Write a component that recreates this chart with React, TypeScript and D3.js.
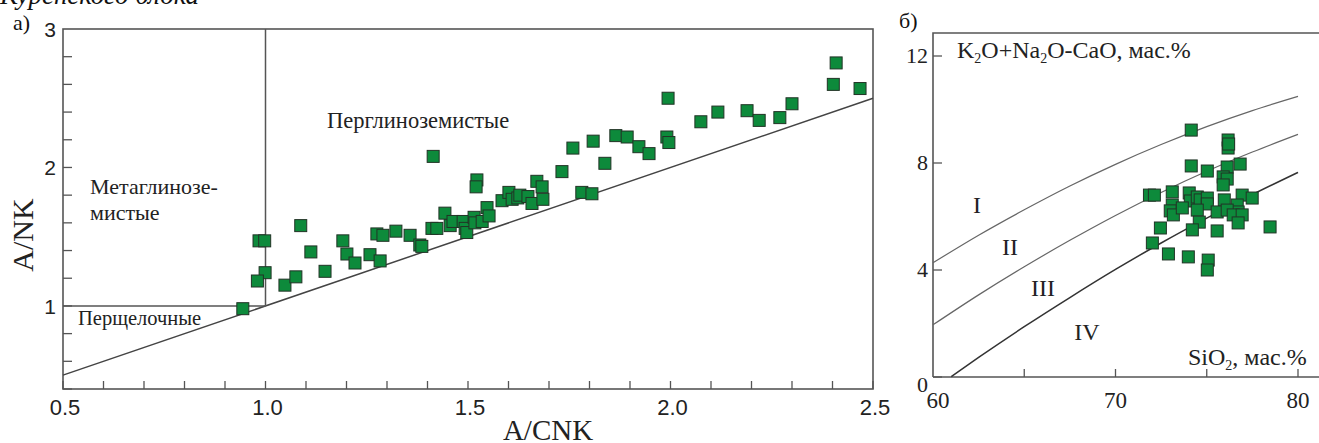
import React from 'react';
import * as d3 from 'd3';

// panel a) A/CNK vs A/NK
const acnk = [0.944, 0.984, 0.998, 0.999, 0.98, 1.048, 1.075, 1.087, 1.112, 1.147, 1.191, 1.201, 1.221, 1.258, 1.283, 1.275, 1.29, 1.322, 1.357, 1.381, 1.386, 1.411, 1.423, 1.443, 1.456, 1.463, 1.488, 1.493, 1.497, 1.515, 1.517, 1.535, 1.547, 1.552, 1.584, 1.601, 1.609, 1.623, 1.628, 1.648, 1.658, 1.67, 1.683, 1.685, 1.414, 1.522, 1.52, 1.732, 1.759, 1.809, 1.838, 1.781, 1.806, 1.865, 1.893, 1.922, 1.947, 1.991, 1.996, 1.994, 2.075, 2.117, 2.189, 2.219, 2.27, 2.3, 2.402, 2.409, 2.468];
const ank = [0.98, 1.47, 1.47, 1.24, 1.18, 1.15, 1.21, 1.58, 1.39, 1.25, 1.47, 1.375, 1.31, 1.37, 1.325, 1.52, 1.51, 1.54, 1.51, 1.44, 1.43, 1.56, 1.56, 1.67, 1.58, 1.61, 1.61, 1.56, 1.53, 1.64, 1.6, 1.61, 1.71, 1.65, 1.76, 1.82, 1.77, 1.78, 1.8, 1.79, 1.74, 1.9, 1.86, 1.77, 2.08, 1.91, 1.86, 1.97, 2.14, 2.19, 2.03, 1.82, 1.81, 2.23, 2.22, 2.15, 2.1, 2.22, 2.18, 2.5, 2.33, 2.4, 2.41, 2.34, 2.36, 2.46, 2.6, 2.755, 2.57];

// panel б) SiO2 vs K2O+Na2O-CaO
const sio2 = [74.15, 76.17, 76.17, 76.2, 74.15, 75.03, 76.12, 76.83, 75.9, 76.12, 75.9, 71.86, 72.13, 73.11, 74.04, 74.1, 74.48, 74.64, 75.03, 75.03, 75.96, 76.94, 77.49, 76.67, 76.72, 73.11, 73.0, 73.17, 73.66, 74.48, 75.57, 76.12, 76.45, 76.94, 74.59, 76.72, 78.47, 72.46, 74.21, 75.57, 72.02, 72.9, 73.99, 75.08, 75.03];
const mali = [9.23, 8.86, 8.56, 8.71, 7.89, 7.7, 7.85, 7.96, 7.48, 7.4, 7.18, 6.8, 6.8, 6.92, 6.88, 6.58, 6.73, 6.62, 6.69, 6.47, 6.62, 6.8, 6.69, 6.43, 6.17, 6.43, 6.21, 6.06, 6.32, 6.24, 6.17, 6.24, 6.06, 6.06, 5.79, 5.76, 5.61, 5.57, 5.5, 5.46, 5.01, 4.6, 4.49, 4.37, 4.0];

// boundary curves I/II, II/III, III/IV
const bSi = [60, 62.5, 65, 67.5, 70, 72.5, 75, 77.5, 80];
const bI = [4.27, 5.3, 6.25, 7.14, 7.95, 8.69, 9.36, 9.96, 10.49];
const bII = [1.95, 3.07, 4.12, 5.11, 6.04, 6.9, 7.69, 8.41, 9.07];
const bSi3 = [61, 62.5, 65, 67.5, 70, 72.5, 75, 77.5, 80];
const bIII = [0.01, 0.73, 1.88, 2.97, 4.02, 5.01, 5.94, 6.82, 7.65];

const xTicksA = d3.range(5, 26).map(d => d / 10);
const yTicksA = d3.range(2, 15).map(d => d / 5);

const serif = '"Liberation Serif", "Times New Roman", serif';
const sans = '"Liberation Sans", Arial, sans-serif';
const green = '#0d8a3b';
const sq = 12;

export default function App() {
  // left panel scales
  const xA = d3.scaleLinear().domain([0.5, 2.5]).range([63, 873]);
  const yA = d3.scaleLinear().domain([0.4, 3]).range([389, 29]);

  // right panel scales
  const xB = d3.scaleLinear().domain([60, 80]).range([933, 1298]);
  const yB = d3.scaleLinear().domain([0, 12]).range([377, 56]);

  const lineB = d3.line<number>().curve(d3.curveMonotoneX);
  const curve = (xs: number[], ys: number[]) =>
    lineB(xs.map((x, i) => [xB(x), yB(ys[i])] as any) as any) || '';

  return (
    <svg width={1319} height={443} style={{ position: 'absolute', left: 0, top: 0, background: '#fff' }}>
      <text x={0} y={4} fontFamily={serif} fontStyle="italic" fontSize={27} fill="#111">Куренского блока</text>

      {/* ---- panel a ---- */}
      <text x={13} y={30} fontFamily={serif} fontSize={22} fill="#111">а)</text>
      <rect x={xA(0.5)} y={yA(3)} width={xA(2.5) - xA(0.5)} height={yA(0.4) - yA(3)} fill="none" stroke="#555" strokeWidth={1.6} />
      {xTicksA.map(t => (
        <line key={'xa' + t} x1={xA(t)} x2={xA(t)} y1={yA(0.4)} y2={yA(0.4) - 8} stroke="#555" strokeWidth={1.3} />
      ))}
      {yTicksA.map(t => (
        <line key={'ya' + t} x1={xA(0.5)} x2={xA(0.5) + 9} y1={yA(t)} y2={yA(t)} stroke="#555" strokeWidth={1.3} />
      ))}
      {[0.5, 1.0, 1.5, 2.0, 2.5].map(t => (
        <text key={'xl' + t} x={xA(t) + 2} y={415} textAnchor="middle" fontFamily={sans} fontSize={22} fill="#222">{t.toFixed(1)}</text>
      ))}
      {[1, 2, 3].map(t => (
        <text key={'yl' + t} x={56} y={yA(t) + 8} textAnchor="end" fontFamily={sans} fontSize={21} fill="#222">{t}</text>
      ))}
      <text x={548} y={440} textAnchor="middle" fontFamily={serif} fontSize={29} fill="#222">A/CNK</text>
      <text transform={`translate(33,235) rotate(-90)`} textAnchor="middle" fontFamily={serif} fontSize={30} fill="#222">A/NK</text>

      <line x1={xA(0.5)} y1={yA(0.5)} x2={xA(2.5)} y2={yA(2.5)} stroke="#444" strokeWidth={1.5} />
      <line x1={xA(1)} y1={yA(1)} x2={xA(1)} y2={yA(3)} stroke="#555" strokeWidth={1.5} />
      <line x1={xA(0.5)} y1={yA(1)} x2={xA(1)} y2={yA(1)} stroke="#555" strokeWidth={1.5} />

      <text x={327} y={128} fontFamily={serif} fontSize={22.5} fill="#222">Перглиноземистые</text>
      <text x={90} y={194} fontFamily={serif} fontSize={22} fill="#222">Метаглинозе-</text>
      <text x={90} y={220} fontFamily={serif} fontSize={22} fill="#222">мистые</text>
      <text x={78} y={325} fontFamily={serif} fontSize={20.5} fill="#222">Перщелочные</text>

      {acnk.map((v, i) => (
        <rect key={'a' + i} x={xA(v) - sq / 2} y={yA(ank[i]) - sq / 2} width={sq} height={sq}
          fill={green} stroke="#223326" strokeWidth={1} />
      ))}

      {/* ---- panel b ---- */}
      <text x={899} y={28} fontFamily={serif} fontSize={22} fill="#111">б)</text>
      <polyline points={`${xB(60)},${yB(0)} ${xB(60)},33 1319,33`} fill="none" stroke="#555" strokeWidth={1.6} />
      <line x1={xB(60)} x2={1319} y1={yB(0)} y2={yB(0)} stroke="#555" strokeWidth={1.6} />
      {[0, 4, 8, 12].map(t => (
        <line key={'yb' + t} x1={xB(60)} x2={xB(60) + 9} y1={yB(t)} y2={yB(t)} stroke="#555" strokeWidth={1.3} />
      ))}
      {[65, 70, 75, 80].map(t => (
        <line key={'xb' + t} x1={xB(t)} x2={xB(t)} y1={yB(0)} y2={yB(0) - 8} stroke="#555" strokeWidth={1.3} />
      ))}
      {[0, 4, 8, 12].map(t => (
        <text key={'ybl' + t} x={928} y={yB(t) + 7 + (t === 0 ? 8 : 0)} textAnchor="end" fontFamily={serif} fontSize={22} fill="#222">{t}</text>
      ))}
      {[60, 70, 80].map(t => (
        <text key={'xbl' + t} x={xB(t) + (t === 60 ? 5 : 0)} y={408} textAnchor="middle" fontFamily={serif} fontSize={23} fill="#222">{t}</text>
      ))}

      <path d={curve(bSi, bI)} fill="none" stroke="#666" strokeWidth={1.2} />
      <path d={curve(bSi, bII)} fill="none" stroke="#666" strokeWidth={1.2} />
      <path d={curve(bSi3, bIII)} fill="none" stroke="#333" strokeWidth={1.5} />

      <text x={957} y={58} fontFamily={serif} fontSize={24} fill="#222">
        K<tspan fontSize={14} dy={5}>2</tspan><tspan dy={-5}>O+Na</tspan><tspan fontSize={14} dy={5}>2</tspan><tspan dy={-5}>O-CaO, мас.%</tspan>
      </text>
      <text x={1188} y={365} fontFamily={serif} fontSize={24} fill="#222">
        SiO<tspan fontSize={14} dy={5}>2</tspan><tspan dy={-5}>, мас.%</tspan>
      </text>
      <text x={977} y={213} textAnchor="middle" fontFamily={serif} fontSize={24} fill="#222">I</text>
      <text x={1010} y={255} textAnchor="middle" fontFamily={serif} fontSize={24} fill="#222">II</text>
      <text x={1043} y={296} textAnchor="middle" fontFamily={serif} fontSize={24} fill="#222">III</text>
      <text x={1087} y={340} textAnchor="middle" fontFamily={serif} fontSize={24} fill="#222">IV</text>

      {sio2.map((v, i) => (
        <rect key={'b' + i} x={xB(v) - sq / 2} y={yB(mali[i]) - sq / 2} width={sq} height={sq}
          fill={green} stroke="#223326" strokeWidth={1} />
      ))}
    </svg>
  );
}
